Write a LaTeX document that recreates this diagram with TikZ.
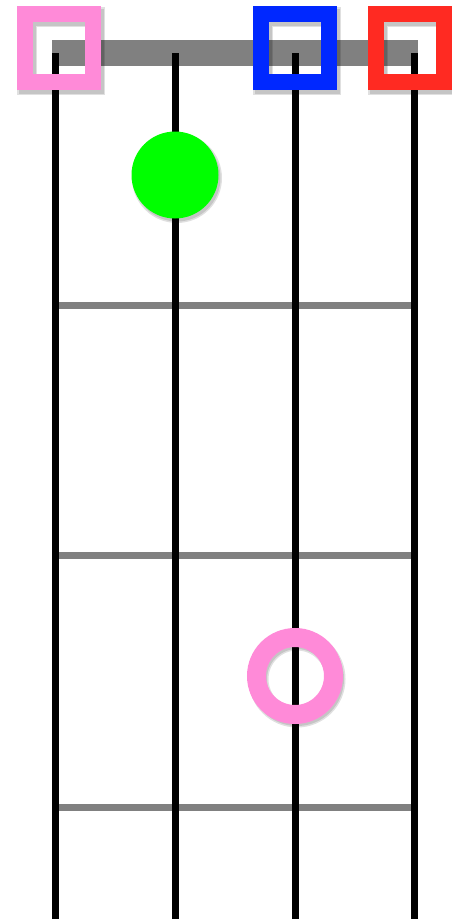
\documentclass[tikz,border=0pt]{standalone}
\definecolor{pinkc}{HTML}{FF8AD8}
\definecolor{bluec}{HTML}{0028FF}
\definecolor{redc}{HTML}{FF2A22}
\definecolor{greenc}{HTML}{00FF00}
\definecolor{grayc}{HTML}{808080}
\tikzset{
  stringline/.style={line width=7pt, black},
  fretline/.style={line width=7pt, grayc},
  openbox/.style={draw=#1, line width=16pt, minimum size=68pt, inner sep=0pt, shape=rectangle},
  dot/.style={circle, fill=greenc, minimum size=87pt, inner sep=0pt},
  ring/.style={circle, draw=pinkc, line width=19pt, minimum size=77pt, inner sep=0pt},
  shadowstroke/.style={black, opacity=0.12, xshift=2pt, yshift=-3pt}
}
\begin{document}
\begin{tikzpicture}[x=1pt,y=-1pt]
\useasboundingbox (0,0) rectangle (452,921);
% nut
\fill[grayc] (52,40) rectangle (418,66);
% frets
\foreach \y/\n in {305/f1,555/f2,807/f3}{
  \coordinate (\n l) at (52,\y);
  \coordinate (\n r) at (418,\y);
  \draw[fretline] (\n l) -- (\n r);
}
% strings
\foreach \x/\n in {55.5/s1,175.5/s2,295/s3,414.5/s4}{
  \coordinate (\n t) at (\x,53);
  \coordinate (\n b) at (\x,919);
  \draw[stringline] (\n t) -- (\n b);
}
% soft shadows
\foreach \w in {20,17} {
  \draw[shadowstroke, line width=\w pt] (25,14) rectangle (93,82);
  \draw[shadowstroke, line width=\w pt] (261,14) rectangle (329,82);
  \draw[shadowstroke, line width=\w pt] (376,14) rectangle (444,82);
  \draw[shadowstroke, line width=\w pt] (295,676) circle (38.5pt);
}
\foreach \r in {45,43.5} {
  \fill[shadowstroke] (175,175) circle (\r pt);
}
% open string markers
\node[openbox=pinkc] (mpink) at (59,48) {};
\node[openbox=bluec] (mblue) at (295,48) {};
\node[openbox=redc] (mred) at (410,48) {};
% finger dot
\node[dot] (mgreen) at (175,175) {};
% ring
\node[ring] (mring) at (295,676) {};
\end{tikzpicture}
\end{document}
